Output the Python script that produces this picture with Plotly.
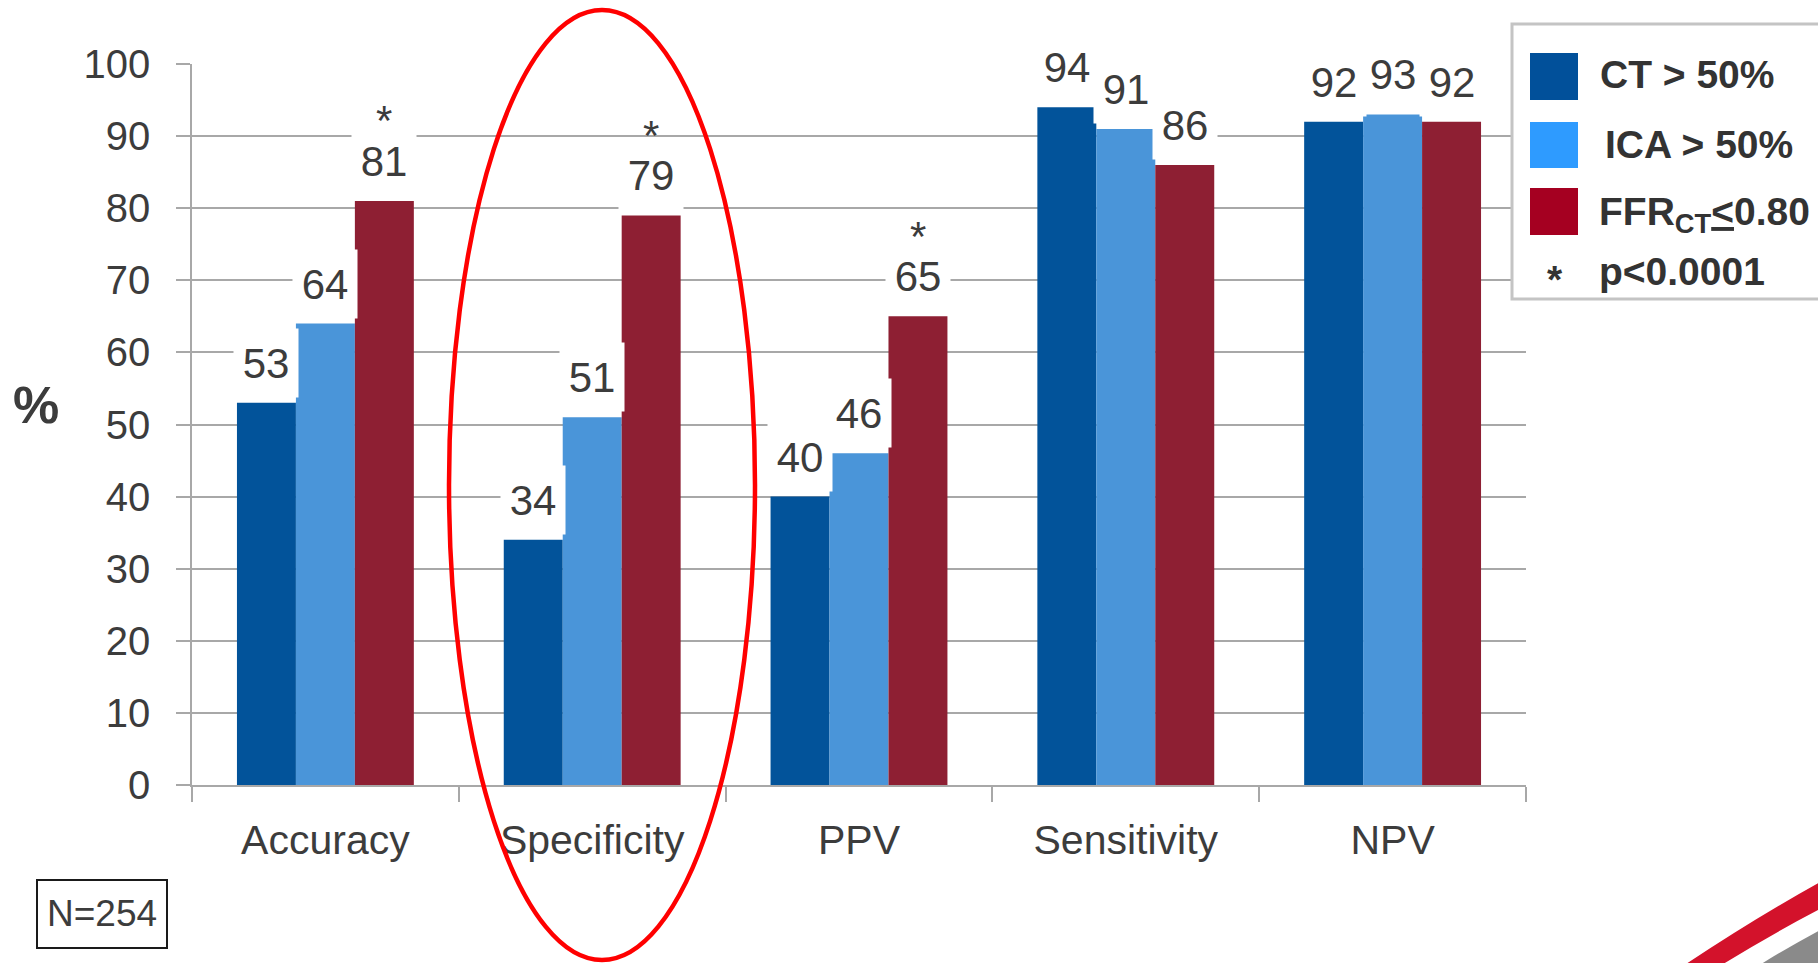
import plotly.graph_objects as go

# ---- data -------------------------------------------------------------
categories = ["Accuracy", "Specificity", "PPV", "Sensitivity", "NPV"]
ct_50 = [53, 34, 40, 94, 92]
ica_50 = [64, 51, 46, 91, 93]
ffr_ct = [81, 79, 65, 86, 92]
series_values = [ct_50, ica_50, ffr_ct]
series_names = ["CT > 50%", "ICA > 50%", "FFR<sub>CT</sub><u>&lt;</u>0.80"]
# significance marker (* p<0.0001) per series / category
significant = [
    [False, False, False, False, False],
    [False, False, False, False, False],
    [True, True, True, False, False],
]
y_ticks = list(range(0, 101, 10))
sample_note = "N=254"
p_note = "p<0.0001"

# ---- style ------------------------------------------------------------
bar_colors = ["#02539A", "#4A95D9", "#8E1F33"]
legend_colors = ["#01509A", "#2E9BFF", "#A50021"]
FONT = "Liberation Sans, Arial, sans-serif"
TEXT = "#3c3c3c"
GRID = "#a8a8a8"

W, H = 1818, 963
L, R, T, B = 192, 292, 64, 178
PW, PH = W - L - R, H - T - B
BARGAP = 0.337
BW = (1 - BARGAP) / 3


def fx(x):
    return (x - L) / PW


def fy(y):
    return (H - B - y) / PH


fig = go.Figure()
for name, vals, col in zip(series_names, series_values, bar_colors):
    fig.add_trace(go.Bar(
        x=categories, y=vals, name=name,
        marker=dict(color=col, line=dict(width=0)),
        showlegend=False,
    ))

annotations = []
for k, vals in enumerate(series_values):
    for i, v in enumerate(vals):
        xc = i + (k - 1) * BW
        annotations.append(dict(
            x=xc, y=v, xref="x", yref="y", text=str(v), showarrow=False,
            font=dict(family=FONT, size=42, color=TEXT),
            bgcolor="white", width=64, height=68, borderpad=0,
            yanchor="middle", yshift=40,
        ))
        if significant[k][i]:
            annotations.append(dict(
                x=xc, y=v, xref="x", yref="y", text="*", showarrow=False,
                font=dict(family=FONT, size=42, color=TEXT),
                yanchor="middle", yshift=80,
            ))

# axis title
annotations.append(dict(
    x=fx(36), y=fy(405), xref="paper", yref="paper", text="<b>%</b>",
    showarrow=False, font=dict(family=FONT, size=52, color=TEXT),
    xanchor="center", yanchor="middle",
))

# sample size box
annotations.append(dict(
    x=fx(102), y=fy(914), xref="paper", yref="paper", text=sample_note,
    showarrow=False, font=dict(family=FONT, size=37, color=TEXT),
    xanchor="center", yanchor="middle",
))

shapes = []
shapes.append(dict(
    type="rect", xref="paper", yref="paper",
    x0=fx(37), x1=fx(167), y0=fy(948), y1=fy(880),
    line=dict(color="#1a1a1a", width=2), fillcolor="rgba(0,0,0,0)",
))

# highlight ellipse around Specificity
shapes.append(dict(
    type="circle", xref="paper", yref="paper",
    x0=fx(602 - 153), x1=fx(602 + 153), y0=fy(960), y1=fy(10),
    line=dict(color="#FF0000", width=4.5), fillcolor="rgba(0,0,0,0)",
    layer="above",
))

# legend panel
shapes.append(dict(
    type="rect", xref="paper", yref="paper",
    x0=fx(1512), x1=fx(1840), y0=fy(299), y1=fy(24),
    line=dict(color="#c4c4c4", width=3), fillcolor="white", layer="above",
))
swatch_rows = [(53, 100), (122, 168), (188, 235)]
text_rows = [(1598, 74), (1603, 145), (1597, 214)]
for (y0, y1), col in zip(swatch_rows, legend_colors):
    shapes.append(dict(
        type="rect", xref="paper", yref="paper",
        x0=fx(1530), x1=fx(1578), y0=fy(y1), y1=fy(y0),
        line=dict(width=0), fillcolor=col, layer="above",
    ))
for (tx, ty), name in zip(text_rows, series_names):
    annotations.append(dict(
        x=fx(tx), y=fy(ty), xref="paper", yref="paper", text="<b>" + name + "</b>",
        showarrow=False, font=dict(family=FONT, size=39, color="#333333"),
        xanchor="left", yanchor="middle",
    ))
annotations.append(dict(
    x=fx(1555), y=fy(279), xref="paper", yref="paper", text="<b>*</b>",
    showarrow=False, font=dict(family=FONT, size=39, color="#333333"),
    xanchor="center", yanchor="middle",
))
annotations.append(dict(
    x=fx(1597), y=fy(271), xref="paper", yref="paper", text="<b>" + p_note + "</b>",
    showarrow=False, font=dict(family=FONT, size=39, color="#333333"),
    xanchor="left", yanchor="middle",
))


# corner swoosh decoration
def pth(points):
    out = []
    for cmd, pts in points:
        out.append(cmd + " ".join(f"{fx(a):.5f},{fy(b):.5f}" for a, b in pts))
    return " ".join(out) + " Z"


shapes.append(dict(
    type="path", xref="paper", yref="paper",
    path=pth([("M", [(1683, 966)]), ("Q", [(1755, 918), (1822, 881)]),
              ("L", [(1822, 908)]), ("Q", [(1770, 935), (1720, 966)])]),
    fillcolor="#D3122B", line=dict(width=0), layer="above",
))
shapes.append(dict(
    type="path", xref="paper", yref="paper",
    path=pth([("M", [(1758, 966)]), ("Q", [(1790, 946), (1822, 929)]),
              ("L", [(1822, 966)])]),
    fillcolor="#8a8a8a", line=dict(width=0), layer="above",
))

fig.update_layout(
    width=W, height=H,
    margin=dict(l=L, r=R, t=T, b=B, pad=0),
    paper_bgcolor="white", plot_bgcolor="white",
    barmode="group", bargap=BARGAP, bargroupgap=0,
    font=dict(family=FONT, color=TEXT),
    annotations=annotations, shapes=shapes,
    showlegend=False,
)
fig.update_xaxes(
    type="category", range=[-0.5, len(categories) - 0.5],
    showgrid=False, showline=True, linecolor=GRID, linewidth=1.5,
    ticks="outside", tickson="boundaries", ticklen=15, tickcolor=GRID, tickwidth=1.5,
    tickfont=dict(family=FONT, size=41, color=TEXT), ticklabelstandoff=18,
    fixedrange=True,
)
fig.update_yaxes(
    range=[0, 100], tickvals=y_ticks,
    showgrid=True, gridcolor=GRID, gridwidth=1.5,
    showline=True, linecolor=GRID, linewidth=1.5, zeroline=False,
    ticks="outside", ticklen=14, tickcolor=GRID, tickwidth=1.5,
    tickfont=dict(family=FONT, size=40, color=TEXT), ticklabelstandoff=18,
    fixedrange=True,
)

fig.write_html("out.html")
